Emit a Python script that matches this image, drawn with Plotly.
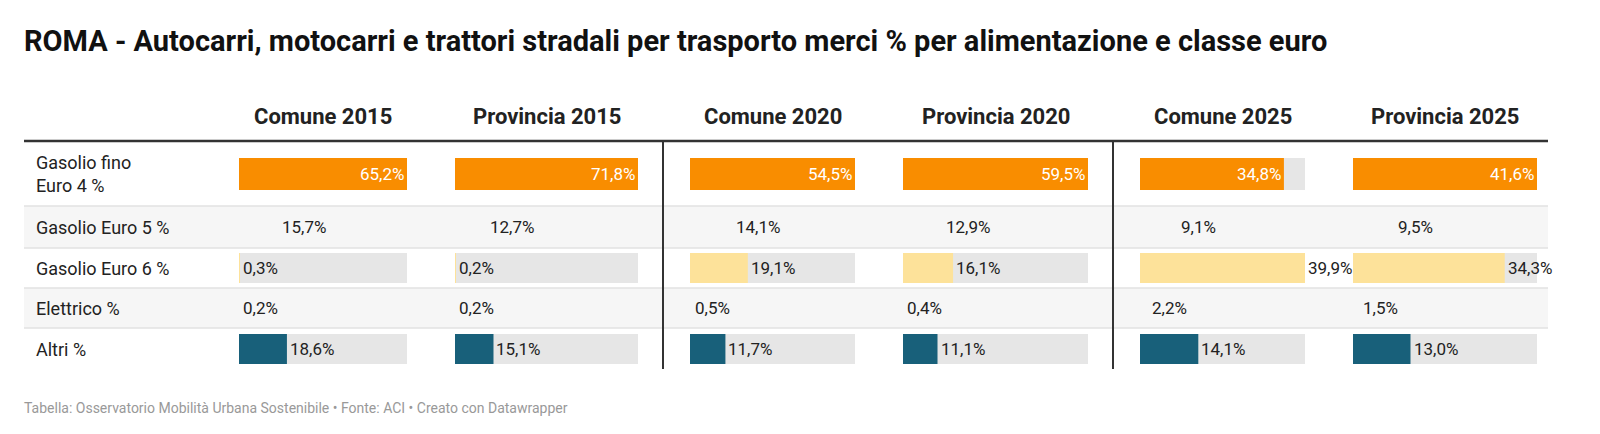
import plotly.graph_objects as go

title = "ROMA - Autocarri, motocarri e trattori stradali per trasporto merci % per alimentazione e classe euro"
columns = ["Comune 2015", "Provincia 2015", "Comune 2020", "Provincia 2020", "Comune 2025", "Provincia 2025"]
rows = ["Gasolio fino<br>Euro 4 %", "Gasolio Euro 5 %", "Gasolio Euro 6 %", "Elettrico %", "Altri %"]

gasolio_e4 = [65.2, 71.8, 54.5, 59.5, 34.8, 41.6]
gasolio_e5 = [15.7, 12.7, 14.1, 12.9, 9.1, 9.5]
gasolio_e6 = [0.3, 0.2, 19.1, 16.1, 39.9, 34.3]
elettrico = [0.2, 0.2, 0.5, 0.4, 2.2, 1.5]
altri = [18.6, 15.1, 11.7, 11.1, 14.1, 13.0]
footer = "Tabella: Osservatorio Mobilità Urbana Sostenibile • Fonte: ACI • Creato con Datawrapper"

series = [gasolio_e4, gasolio_e5, gasolio_e6, elettrico, altri]
colors = ["#f98d00", "#fec776", "#fde29a", "#19b89b", "#18607a"]

W, H = 1600, 434
col_px = [(231, 399), (447, 630), (682, 847), (895, 1080), (1132, 1297), (1345, 1529)]
row_y = [166, 219, 260, 300, 341]
bar_h = [32, 30, 30, 30, 30]
font = "Roboto"

fig = go.Figure()
ann = []
# overall pixel-like axis for text placement
fig.layout["xaxis7"] = dict(domain=[0, 1], range=[0, W], anchor="y", visible=False, fixedrange=True)

for c, name in enumerate(columns):
    ax = "x" if c == 0 else f"x{c+1}"
    vals = [s[c] for s in series]
    vmax = max(vals)
    fig.add_trace(go.Bar(x=[vmax] * len(rows), y=row_y, width=bar_h, orientation="h",
                         marker=dict(color="#e6e6e6", line_width=0), xaxis=ax, yaxis="y",
                         hoverinfo="skip", showlegend=False))
    fig.add_trace(go.Bar(x=vals, y=row_y, width=bar_h, orientation="h",
                         marker=dict(color=colors, line_width=0), xaxis=ax, yaxis="y",
                         showlegend=False))
    for r, v in enumerate(vals):
        label = f"{v:.1f}%".replace(".", ",")
        inside = r == 0
        ann.append(dict(x=v, y=row_y[r], xref=ax, yref="y", text=label, showarrow=False,
                        xanchor="right" if inside else "left", xshift=-1 if inside else 1,
                        font=dict(family=font, size=17, color="white" if inside else "#222")))
    x0, x1 = col_px[c]
    key = "xaxis" if c == 0 else f"xaxis{c+1}"
    fig.layout[key] = dict(domain=[x0 / W, x1 / W], range=[0, vmax], anchor="y",
                           visible=False, fixedrange=True)
    ann.append(dict(x=(x0 + x1) / 2, y=108, xref="x7", yref="y", text=f"<b>{name}</b>",
                    showarrow=False, font=dict(family=font, size=22, color="#222")))

for r, name in enumerate(rows):
    ann.append(dict(x=26, y=row_y[r], xref="x7", yref="y", text=name, showarrow=False,
                    xanchor="left", align="left", font=dict(family=font, size=18, color="#222")))

ann.append(dict(x=14, y=33, xref="x7", yref="y", text=f"<b>{title}</b>", showarrow=False,
                xanchor="left", font=dict(family=font, size=29, color="#111")))
ann.append(dict(x=14, y=400, xref="x7", yref="y", text=footer, showarrow=False,
                xanchor="left", font=dict(family=font, size=14, color="#999")))

shapes = []
for y0, y1 in [(198, 240), (280, 320)]:
    shapes.append(dict(type="rect", xref="x7", yref="y", x0=16, x1=1540, y0=y0, y1=y1,
                       fillcolor="#f6f6f6", line_width=0, layer="below"))
for y in [198, 240, 280, 320]:
    shapes.append(dict(type="line", xref="x7", yref="y", x0=16, x1=1540, y0=y, y1=y,
                       line=dict(color="#e2e2e2", width=1.5), layer="below"))
shapes.append(dict(type="line", xref="x7", yref="y", x0=16, x1=1540, y0=133, y1=133,
                   line=dict(color="#333", width=2.5)))
for x in [655, 1105]:
    shapes.append(dict(type="line", xref="x7", yref="y", x0=x, x1=x, y0=133, y1=361,
                       line=dict(color="#333", width=2)))

fig.update_layout(
    width=W, height=H, margin=dict(l=0, r=0, t=0, b=0), barmode="overlay",
    paper_bgcolor="white", plot_bgcolor="rgba(0,0,0,0)",
    yaxis=dict(range=[H, 0], domain=[0, 1], visible=False, fixedrange=True),
    annotations=ann, shapes=shapes, font=dict(family=font),
)
fig.write_html("out.html", config={"displayModeBar": False})
